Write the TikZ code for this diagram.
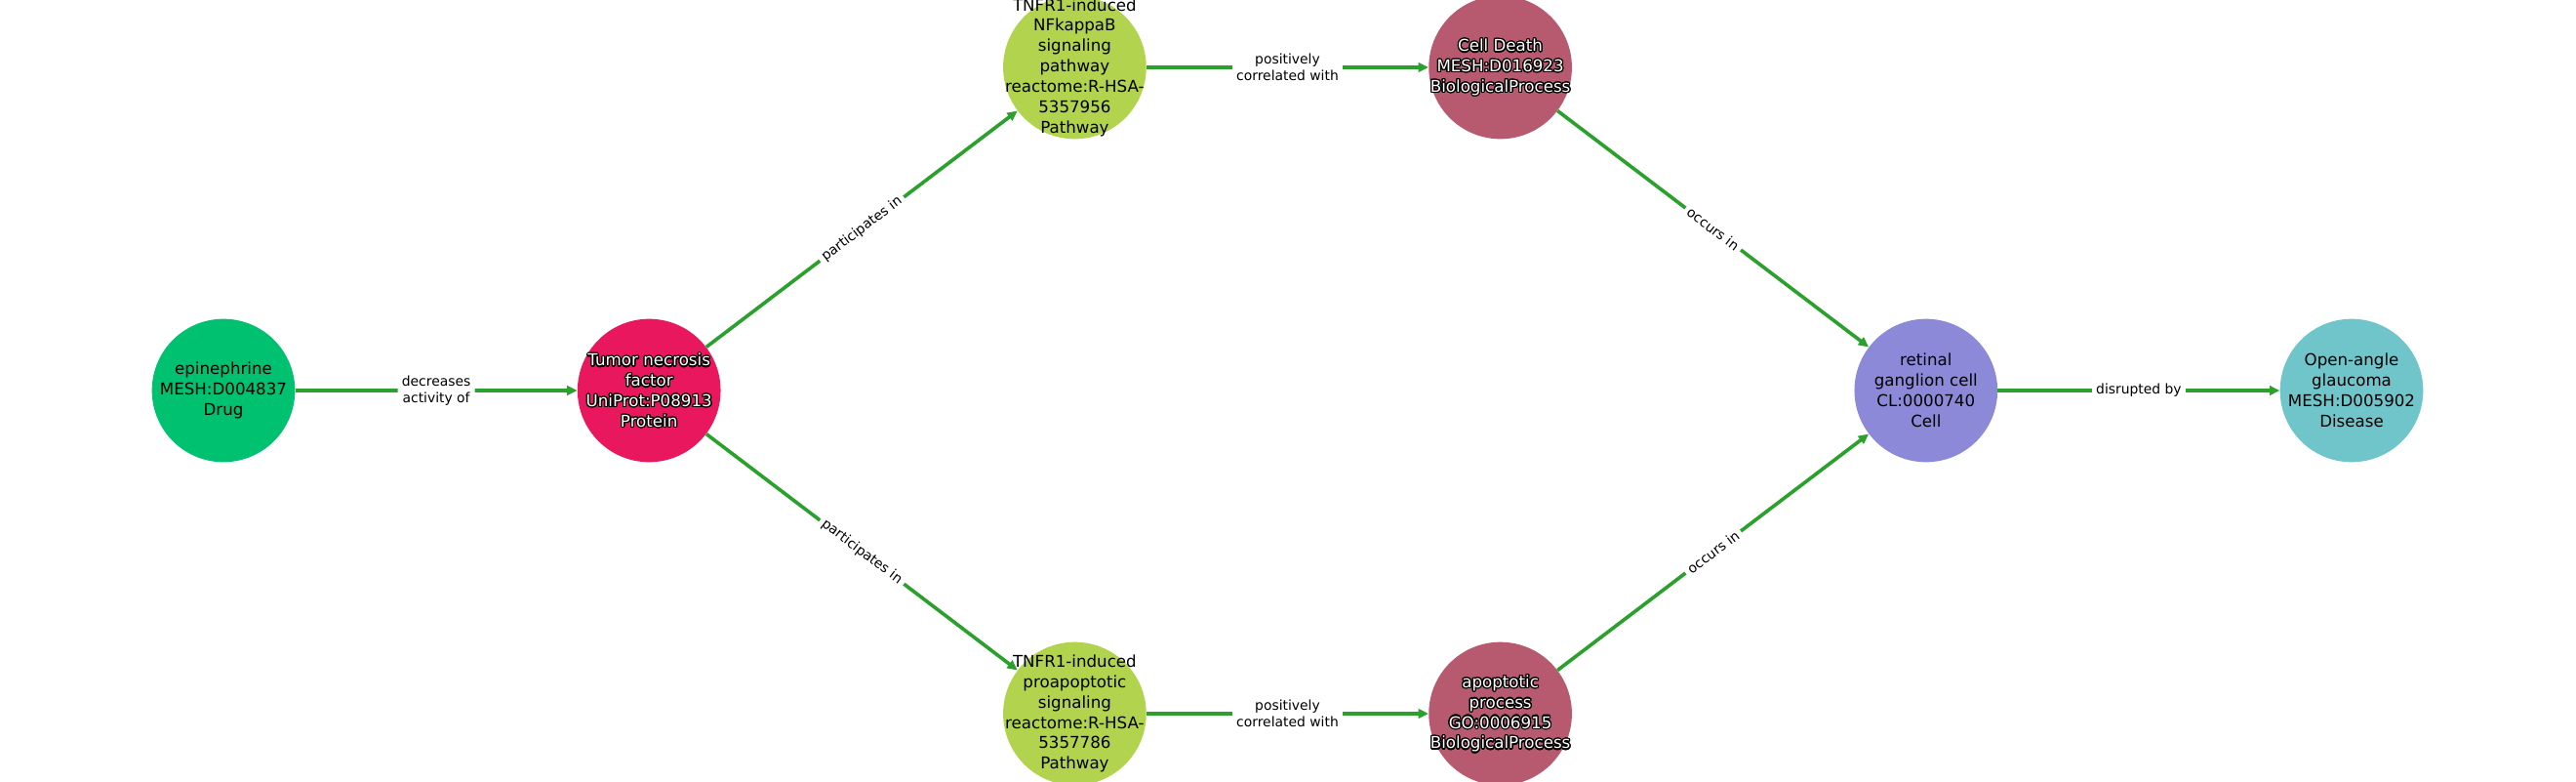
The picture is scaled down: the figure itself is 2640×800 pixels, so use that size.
\documentclass[tikz,border=0pt]{standalone}
\usepackage{fontspec}
\setmainfont{DejaVu Sans}
\usetikzlibrary{arrows.meta,calc}
\definecolor{drugc}{RGB}{0,193,112}
\definecolor{protc}{RGB}{233,23,93}
\definecolor{pathc}{RGB}{178,211,78}
\definecolor{bioc}{RGB}{184,90,111}
\definecolor{cellc}{RGB}{140,137,216}
\definecolor{disc}{RGB}{112,197,202}
\definecolor{edgec}{RGB}{44,160,44}
\tikzset{
  ncirc/.style={circle, minimum size=105.6pt, inner sep=0pt, draw=none},
  ntext/.style={align=center, font=\fontsize{12}{15}\selectfont, inner sep=0pt, text=black},
  edgeline/.style={draw=edgec, line width=2.6pt, -{Triangle[length=7.5pt,width=6.8pt]}},
  elbl/.style={fill=white, rounded corners=2pt, align=center, font=\fontsize{10}{12}\selectfont, inner sep=3pt, text=black},
}
\newcommand{\halotext}[2]{%
  \foreach \ang in {0,22.5,...,337.5}{\node[ntext, text=black] at ($(#1)+(\ang:0.9pt)$) {#2};}
  \node[ntext, text=white] at (#1) {#2};
}
\begin{document}
\begin{tikzpicture}[x=0.72pt,y=-0.72pt]
\useasboundingbox[fill=white] (0,0) rectangle (2640,800);
% circles
\node[ncirc, fill=drugc] (epi) at (229,400) {};
\node[ncirc, fill=protc] (tnf) at (665.2,400) {};
\node[ncirc, fill=pathc] (nfkb) at (1101.4,69) {};
\node[ncirc, fill=pathc] (proap) at (1101.4,731) {};
\node[ncirc, fill=bioc] (death) at (1537.6,69) {};
\node[ncirc, fill=bioc] (apop) at (1537.6,731) {};
\node[ncirc, fill=cellc] (rgc) at (1973.8,400) {};
\node[ncirc, fill=disc] (oag) at (2410,400) {};
% edges
\draw[edgeline] (epi) -- node[elbl]{decreases\\activity of} (tnf);
\draw[edgeline] (tnf) -- node[elbl, sloped]{participates in} (nfkb);
\draw[edgeline] (tnf) -- node[elbl, sloped]{participates in} (proap);
\draw[edgeline] (nfkb) -- node[elbl]{positively\\correlated with} (death);
\draw[edgeline] (proap) -- node[elbl]{positively\\correlated with} (apop);
\draw[edgeline] (death) -- node[elbl, sloped]{occurs in} (rgc);
\draw[edgeline] (apop) -- node[elbl, sloped]{occurs in} (rgc);
\draw[edgeline] (rgc) -- node[elbl]{disrupted by} (oag);
% texts
\node[ntext] (epit) at (epi) {epinephrine\\MESH:D004837\\Drug};
\halotext{tnf}{Tumor necrosis\\factor\\UniProt:P08913\\Protein}
\node[ntext] (nfkbt) at (nfkb) {TNFR1-induced\\NFkappaB\\signaling\\pathway\\reactome:R-HSA-\\5357956\\Pathway};
\node[ntext] (proapt) at (proap) {TNFR1-induced\\proapoptotic\\signaling\\reactome:R-HSA-\\5357786\\Pathway};
\halotext{death}{Cell Death\\MESH:D016923\\BiologicalProcess}
\halotext{apop}{apoptotic\\process\\GO:0006915\\BiologicalProcess}
\node[ntext] (rgct) at (rgc) {retinal\\ganglion cell\\CL:0000740\\Cell};
\node[ntext] (oagt) at (oag) {Open-angle\\glaucoma\\MESH:D005902\\Disease};
\end{tikzpicture}
\end{document}
